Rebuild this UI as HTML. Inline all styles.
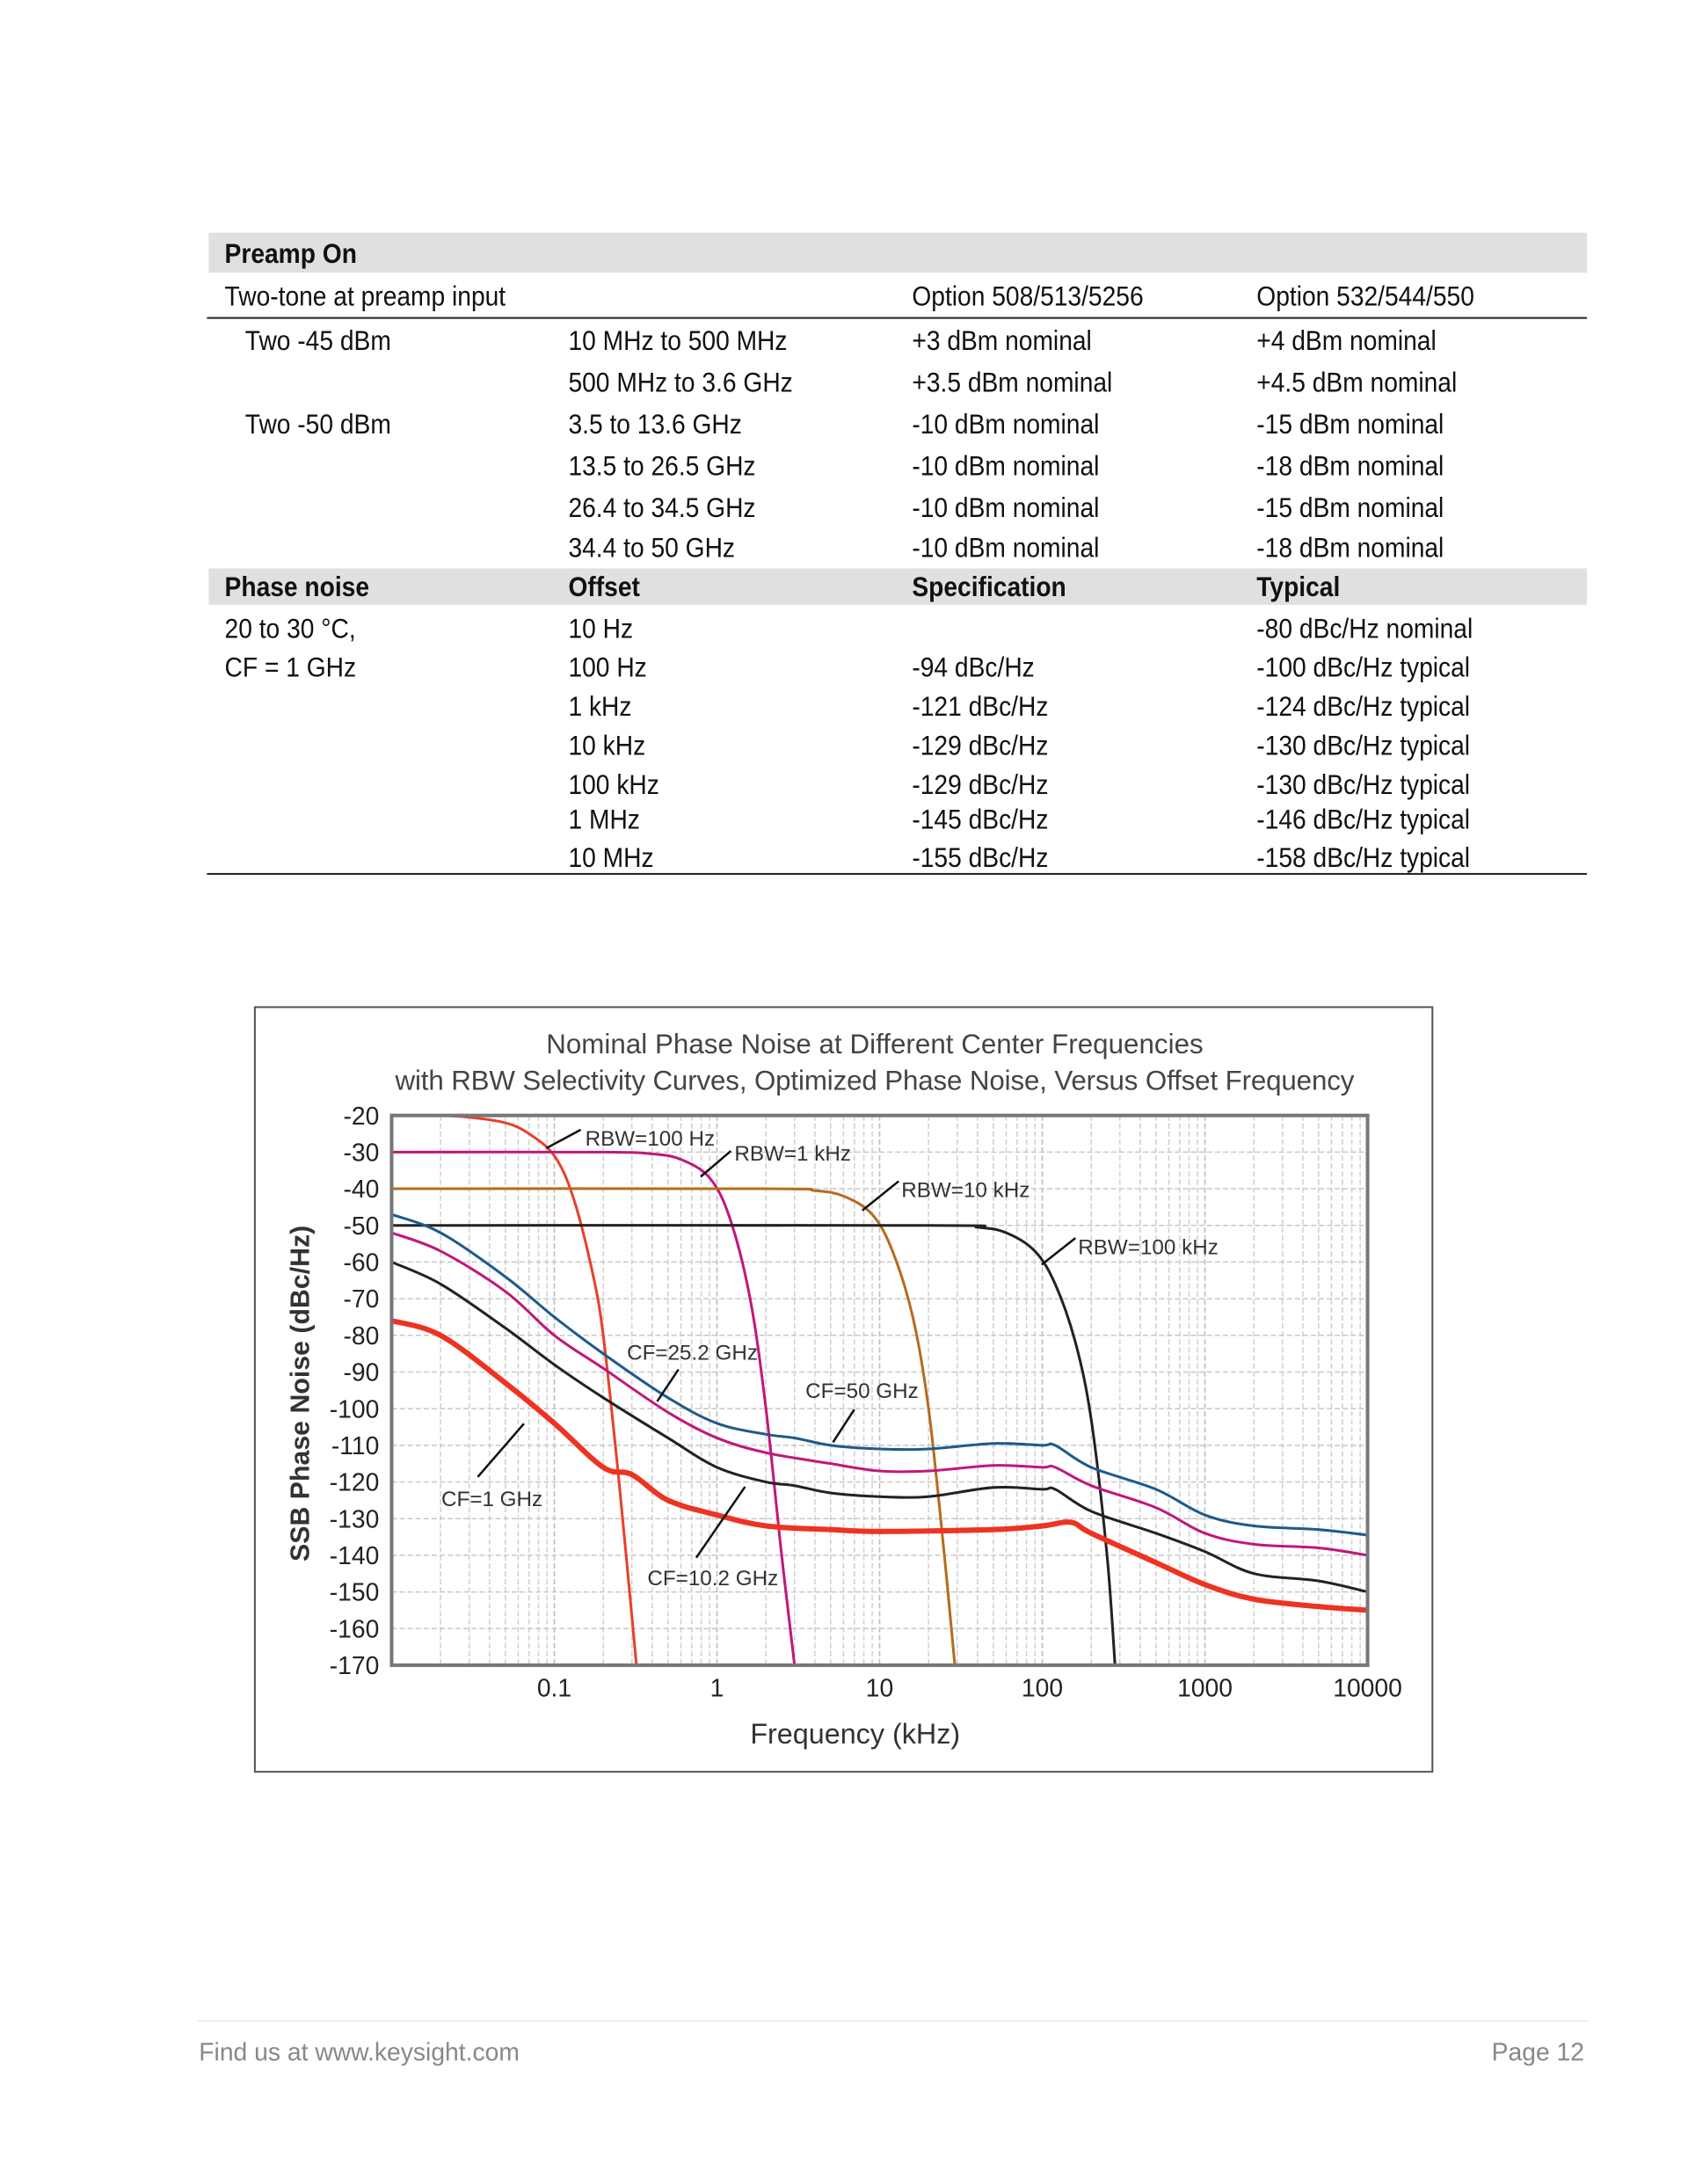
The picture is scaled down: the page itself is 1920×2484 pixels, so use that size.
<!DOCTYPE html>
<html><head><meta charset="utf-8">
<style>
html,body{margin:0;background:#fff;overflow:hidden;width:1920px;height:2484px}
#page{position:relative;width:1920px;height:2484px;background:#fff;font-family:"Liberation Sans",sans-serif;color:#111;overflow:hidden;transform:scale(1.0101);transform-origin:0 0}
.t{position:absolute;font-size:31px;white-space:nowrap;line-height:1;transform:scaleX(0.9);transform-origin:0 0}
.b{font-weight:bold}
.bar{position:absolute;left:235px;width:1552px;background:#e0e0e0}
.hl{position:absolute;left:233px;width:1554px;height:2px;background:#222}
</style></head><body>
<div id="page">
<div class="bar" style="top:262px;height:45px"></div>
<div class="t b" style="left:253px;top:270px">Preamp On</div>
<div class="t" style="left:253px;top:318px">Two-tone at preamp input</div>
<div class="t" style="left:1027px;top:318px">Option 508/513/5256</div>
<div class="t" style="left:1415px;top:318px">Option 532/544/550</div>
<div class="hl" style="top:357px"></div>
<div>
<div class="t" style="left:276px;top:368px">Two -45 dBm</div><div class="t" style="left:640px;top:368px">10 MHz to 500 MHz</div><div class="t" style="left:1027px;top:368px">+3 dBm nominal</div><div class="t" style="left:1415px;top:368px">+4 dBm nominal</div>
<div class="t" style="left:640px;top:415px">500 MHz to 3.6 GHz</div><div class="t" style="left:1027px;top:415px">+3.5 dBm nominal</div><div class="t" style="left:1415px;top:415px">+4.5 dBm nominal</div>
<div class="t" style="left:276px;top:462px">Two -50 dBm</div><div class="t" style="left:640px;top:462px">3.5 to 13.6 GHz</div><div class="t" style="left:1027px;top:462px">-10 dBm nominal</div><div class="t" style="left:1415px;top:462px">-15 dBm nominal</div>
<div class="t" style="left:640px;top:509px">13.5 to 26.5 GHz</div><div class="t" style="left:1027px;top:509px">-10 dBm nominal</div><div class="t" style="left:1415px;top:509px">-18 dBm nominal</div>
<div class="t" style="left:640px;top:556px">26.4 to 34.5 GHz</div><div class="t" style="left:1027px;top:556px">-10 dBm nominal</div><div class="t" style="left:1415px;top:556px">-15 dBm nominal</div>
<div class="t" style="left:640px;top:601px">34.4 to 50 GHz</div><div class="t" style="left:1027px;top:601px">-10 dBm nominal</div><div class="t" style="left:1415px;top:601px">-18 dBm nominal</div>
</div>
<div class="bar" style="top:640px;height:41px"></div>
<div class="t b" style="left:253px;top:645px">Phase noise</div>
<div class="t b" style="left:640px;top:645px">Offset</div>
<div class="t b" style="left:1027px;top:645px">Specification</div>
<div class="t b" style="left:1415px;top:645px">Typical</div>
<div>
<div class="t" style="left:253px;top:692px">20 to 30 °C,</div><div class="t" style="left:640px;top:692px">10 Hz</div><div class="t" style="left:1415px;top:692px">-80 dBc/Hz nominal</div>
<div class="t" style="left:253px;top:736px">CF = 1 GHz</div><div class="t" style="left:640px;top:736px">100 Hz</div><div class="t" style="left:1027px;top:736px">-94 dBc/Hz</div><div class="t" style="left:1415px;top:736px">-100 dBc/Hz typical</div>
<div class="t" style="left:640px;top:780px">1 kHz</div><div class="t" style="left:1027px;top:780px">-121 dBc/Hz</div><div class="t" style="left:1415px;top:780px">-124 dBc/Hz typical</div>
<div class="t" style="left:640px;top:824px">10 kHz</div><div class="t" style="left:1027px;top:824px">-129 dBc/Hz</div><div class="t" style="left:1415px;top:824px">-130 dBc/Hz typical</div>
<div class="t" style="left:640px;top:868px">100 kHz</div><div class="t" style="left:1027px;top:868px">-129 dBc/Hz</div><div class="t" style="left:1415px;top:868px">-130 dBc/Hz typical</div>
<div class="t" style="left:640px;top:907px">1 MHz</div><div class="t" style="left:1027px;top:907px">-145 dBc/Hz</div><div class="t" style="left:1415px;top:907px">-146 dBc/Hz typical</div>
<div class="t" style="left:640px;top:950px">10 MHz</div><div class="t" style="left:1027px;top:950px">-155 dBc/Hz</div><div class="t" style="left:1415px;top:950px">-158 dBc/Hz typical</div>
</div>
<div class="hl" style="top:983px"></div>

<svg id="chart" style="position:absolute;left:0;top:0" width="1920" height="2484" font-family="Liberation Sans, sans-serif"></svg>

<div style="position:absolute;left:223px;top:2275px;width:1565px;height:1px;background:#ddd"></div>
<div class="t" style="left:224px;top:2297px;font-size:28px;color:#888;transform:none">Find us at www.keysight.com</div>
<div class="t" style="left:1670px;top:2297px;width:114px;text-align:right;font-size:28px;color:#888;transform:none">Page 12</div>
</div>
<script>
const xTicks=[0.1,1,10,100,1000,10000];
const xTickLabels=["0.1","1","10","100","1000","10000"];
const yTicks=[-20,-30,-40,-50,-60,-70,-80,-90,-100,-110,-120,-130,-140,-150,-160,-170];
const cf50F=[0.01,0.02,0.05,0.1,0.2,0.5,1,2,3,5,10,20,50,100,120,200,500,1000,2000,5000,10000];
const cf50V=[-47,-52,-64,-75,-85,-97,-104,-107,-108,-110,-111,-111,-109.5,-110,-110,-116,-122,-129,-132,-133,-134.5];
const cf25F=[0.01,0.02,0.05,0.1,0.2,0.5,1,2,5,10,20,50,100,120,200,500,1000,2000,5000,10000];
const cf25V=[-52,-57,-68,-80,-89,-101,-108,-112,-115,-117,-117,-115.5,-116,-116,-121,-127,-134,-137,-138,-140];
const cf10F=[0.01,0.02,0.05,0.1,0.2,0.5,1,2,3,5,10,20,50,100,120,200,500,1000,2000,5000,10000];
const cf10V=[-60,-66,-78,-88,-97,-108,-116,-120,-121,-123,-124,-124,-121.5,-122,-122,-128,-134,-139,-145,-147,-150];
const cf1F=[0.01,0.02,0.05,0.1,0.2,0.3,0.5,1,2,5,10,50,100,150,200,500,1000,2000,5000,10000];
const cf1V=[-76,-80,-93,-104,-116,-118,-125,-129,-132,-133,-133.5,-133,-132,-131,-134,-142,-148,-152,-154,-155];
const rbw100F=[0.01,0.02,0.03,0.05,0.07,0.1,0.13,0.17,0.2,0.25,0.32];
const rbw100V=[-20,-20,-20.5,-22,-25,-31,-42,-62,-80,-120,-170];
const rbw1kF=[0.01,0.2,0.4,0.6,0.9,1.2,1.6,2.0,2.5,3.0];
const rbw1kV=[-30,-30,-30.5,-32,-37,-48,-70,-100,-140,-170];
const rbw10kF=[0.01,2,4,6,9,12,16,20,25,29];
const rbw10kV=[-40,-40,-40.5,-42,-47,-57,-75,-100,-140,-170];
const rbw100kF=[0.01,20,40,60,90,120,160,200,250,280];
const rbw100kV=[-50,-50,-50.5,-52,-57,-66,-82,-103,-140,-170];

const L=441,R=1540,T=1256,B=1875;
function xs(f){return L+(Math.log10(f)+2)/6*(R-L);}
function ys(v){return T+(-20-v)/150*(B-T);}
const svg=document.getElementById('chart');
const NS='http://www.w3.org/2000/svg';
function mk(tag,a,parent){const e=document.createElementNS(NS,tag);for(const k in a)e.setAttribute(k,a[k]);(parent||svg).appendChild(e);return e;}
const frame=mk('rect',{x:287,y:1134,width:1326,height:861,fill:'#fff',stroke:'#555','stroke-width':2});


function txt(x,y,s,a){const e=mk('text',Object.assign({x:x,y:y},a));e.textContent=s;return e;}
const t1=txt(985,1186,'Nominal Phase Noise at Different Center Frequencies',{'text-anchor':'middle','font-size':31,fill:'#444',textLength:740});


const t2=txt(985,1227,'with RBW Selectivity Curves, Optimized Phase Noise, Versus Offset Frequency',{'text-anchor':'middle','font-size':31,fill:'#444',textLength:1080});


const g=mk('g',{});


for(let d=-2;d<4;d++){for(let m=1;m<10;m++){const f=m*Math.pow(10,d);const x=xs(f);if(x<=L+1)continue;
 mk('line',{x1:x,x2:x,y1:T,y2:B,stroke:m==1?'#bbb':'#d0d0d0','stroke-width':1.5,'stroke-dasharray':'6,3'},g);}}
yTicks.forEach(v=>{mk('line',{x1:L,x2:R,y1:ys(v),y2:ys(v),stroke:'#c8c8c8','stroke-width':1.5,'stroke-dasharray':'6,3'},g);});
yTicks.forEach(v=>{const e=txt(427,ys(v)+10,String(v),{'text-anchor':'end','font-size':28,fill:'#222'});
 
 });
xTicks.forEach((f,i)=>{const e=txt(xs(f),1910,xTickLabels[i],{'text-anchor':'middle','font-size':28,fill:'#222'});
 
 });
const xt=txt(963,1963,'Frequency (kHz)',{'text-anchor':'middle','font-size':32,fill:'#333'});


const yt=txt(0,0,'SSB Phase Noise (dBc/Hz)',{'text-anchor':'middle','font-size':30,'font-weight':'bold',fill:'#333',transform:'translate(348,1569) rotate(-90)'});


function series(F,V,color,w,name){
 const P=F.map((f,i)=>[xs(f),ys(V[i])]);
 let d='M'+P[0][0].toFixed(1)+','+P[0][1].toFixed(1);
 for(let i=0;i<P.length-1;i++){const p0=P[Math.max(0,i-1)],p1=P[i],p2=P[i+1],p3=P[Math.min(P.length-1,i+2)];
  const c1=[p1[0]+(p2[0]-p0[0])/6,p1[1]+(p2[1]-p0[1])/6],c2=[p2[0]-(p3[0]-p1[0])/6,p2[1]-(p3[1]-p1[1])/6];
  d+='C'+c1[0].toFixed(1)+','+c1[1].toFixed(1)+' '+c2[0].toFixed(1)+','+c2[1].toFixed(1)+' '+p2[0].toFixed(1)+','+p2[1].toFixed(1);}
 const p=mk('path',{d:d,fill:'none',stroke:color,'stroke-width':w,'stroke-linejoin':'round','clip-path':'url(#pc)'});
 
 }
const clip=mk('clipPath',{id:'pc'});mk('rect',{x:L,y:T,width:R-L,height:B-T},clip);
series(rbw100F,rbw100V,'#e8402a',3,'rbw-100hz-curve');
series(rbw1kF,rbw1kV,'#c0187a',3,'rbw-1khz-curve');
series(rbw10kF,rbw10kV,'#b86a1e',3,'rbw-10khz-curve');
series(rbw100kF,rbw100kV,'#222',3,'rbw-100khz-curve');
series(cf50F,cf50V,'#1f5a8a',3,'cf-50ghz-curve');
series(cf25F,cf25V,'#c0187a',3,'cf-25ghz-curve');
series(cf10F,cf10V,'#222',3,'cf-10ghz-curve');
series(cf1F,cf1V,'#ee3322',6,'cf-1ghz-curve');
const border=mk('rect',{x:L,y:T,width:R-L,height:B-T,fill:'none',stroke:'#777','stroke-width':4});


const ann=[["RBW=100 Hz",659,1290,615,1293,654,1272],["RBW=1 kHz",827,1307,789,1325,823,1296],["RBW=10 kHz",1015,1348,971,1363,1012,1330],["RBW=100 kHz",1214,1412,1173,1424,1211,1394],["CF=25.2 GHz",706,1531,740,1578,764,1542],["CF=50 GHz",907,1574,938,1624,962,1587],["CF=1 GHz",497,1696,538,1663,590,1603],["CF=10.2 GHz",729,1785,784,1754,839,1674]];
ann.forEach(a=>{mk('line',{x1:a[3],y1:a[4],x2:a[5],y2:a[6],stroke:'#111','stroke-width':2.5});
 const e=txt(a[1],a[2],a[0],{'font-size':24,fill:'#333'});
 
 });
</script>
</body></html>
